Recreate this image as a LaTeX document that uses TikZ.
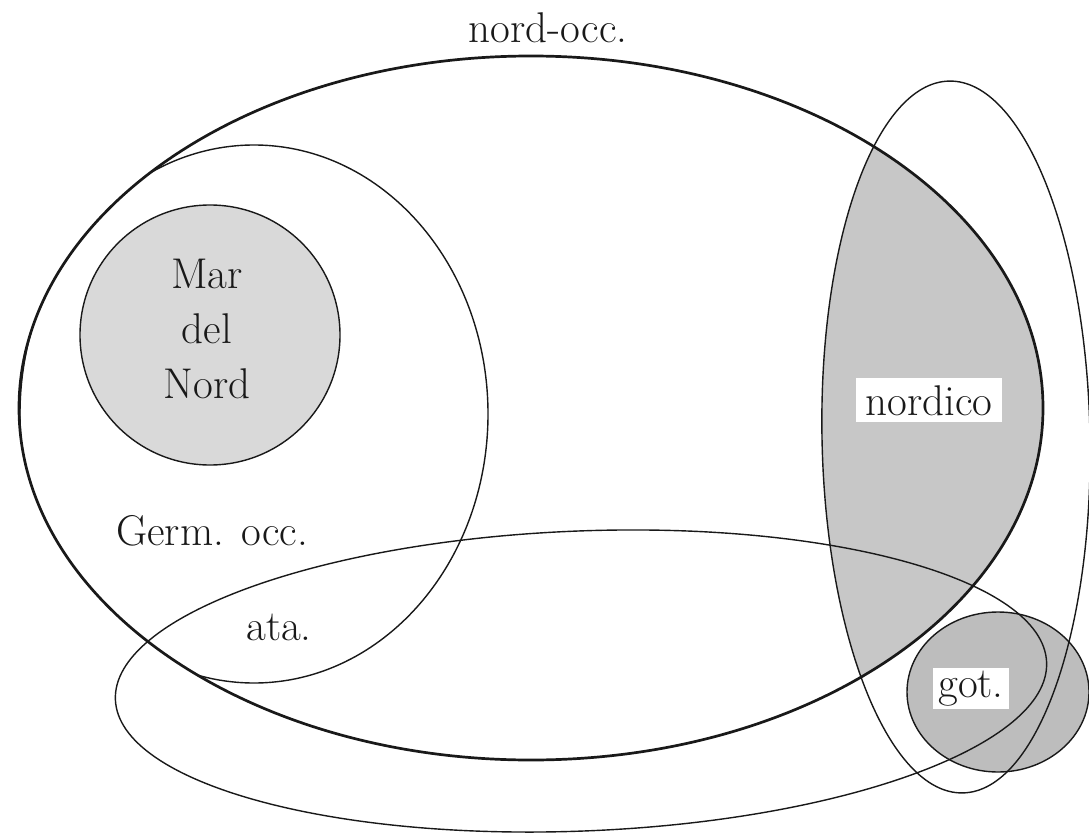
\documentclass[tikz,border=0pt]{standalone}
\usepackage{fontspec}
\definecolor{marfill}{gray}{0.85}
\definecolor{nordfill}{gray}{0.78}
\definecolor{gotfill}{gray}{0.74}
\definecolor{ink}{gray}{0.1}
\begin{document}
\begin{tikzpicture}[x=1pt,y=-1pt,
  outline/.style={draw=ink, line width=1.4pt},
  bigline/.style={draw=ink, line width=2.7pt},
  lbl/.style={font=\fontsize{43}{55}\selectfont, inner sep=0pt, align=center, text=ink},
  boxlbl/.style={lbl, fill=white, inner xsep=10pt, inner ysep=7pt}]
\fill[white] (0,0) rectangle (1089,837);
\useasboundingbox (0,0) rectangle (1089,837);
% fills
\fill[marfill] (210,335) circle [radius=130];
\begin{scope}
  \clip (531,408) ellipse [x radius=512, y radius=352];
  \fill[nordfill, rotate around={1.1:(956,437)}] (956,437) ellipse [x radius=134, y radius=356];
\end{scope}
\fill[gotfill] (998,692) ellipse [x radius=91, y radius=80];
% outlines
\begin{scope}
  \clip (531,408) ellipse [x radius=512, y radius=352];
  \draw[outline] (254,414) ellipse [x radius=234, y radius=269];
\end{scope}
\draw[outline] (210,335) circle [radius=130];
\draw[outline, rotate around={1.1:(956,437)}] (956,437) ellipse [x radius=134, y radius=356];
\draw[outline, rotate around={2.3:(581,681)}] (581,681) ellipse [x radius=466, y radius=150];
\draw[outline] (998,692) ellipse [x radius=91, y radius=80];
\draw[bigline] (531,408) ellipse [x radius=512, y radius=352];
% labels
\node[lbl, anchor=base] (nordocc) at (548,43) {nord-occ.};
\node[lbl] (mar) at (207,329) {Mar\\del\\Nord};
\node[lbl, anchor=base] (germ) at (212,545) {Germ. occ.};
\node[lbl, anchor=base] (ata) at (279,640) {ata.};
\node[boxlbl, anchor=base] (nordico) at (929,415) {nordico};
\node[boxlbl, inner xsep=5pt, inner ysep=3pt, anchor=base] (got) at (971,697) {got.};
\end{tikzpicture}
\end{document}
